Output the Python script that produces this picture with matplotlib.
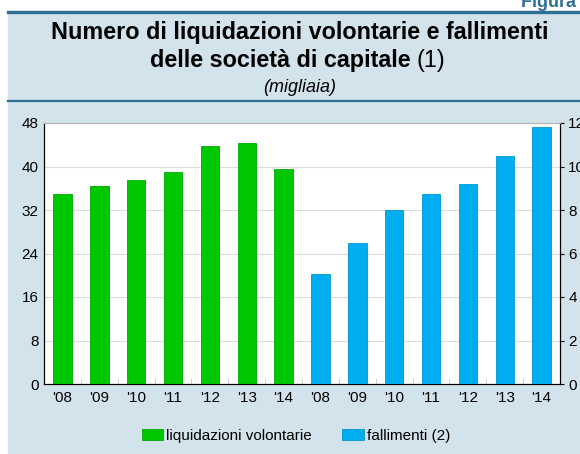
import numpy as np
from matplotlib import pyplot as plt
from matplotlib.patches import Rectangle
from matplotlib.lines import Line2D

years = ["'08", "'09", "'10", "'11", "'12", "'13", "'14"]
liquidazioni = [34.9, 36.4, 37.6, 39.0, 43.8, 44.3, 39.5]   # migliaia, asse sinistro
fallimenti = [5.07, 6.47, 8.0, 8.72, 9.18, 10.47, 11.8]      # migliaia, asse destro

GREEN = "#00c800"
BLUE = "#00aeef"
PANEL = "#d2e3ec"
LINE = "#2f6f93"

plt.rcParams['font.family'] = ['Liberation Sans', 'DejaVu Sans']

W, H = 580, 454
fig = plt.figure(figsize=(W / 100, H / 100), dpi=100)
fig.patch.set_facecolor("white")

# light blue panel and the two dark rules
fig.add_artist(Rectangle((8 / W, 0), 1, 1 - 11 / H, transform=fig.transFigure,
                         color=PANEL, zorder=0))
fig.add_artist(Line2D([8 / W, 1], [1 - 11.5 / H] * 2, transform=fig.transFigure,
                      color=LINE, lw=2.4))
fig.add_artist(Line2D([8 / W, 1], [1 - 101 / H] * 2, transform=fig.transFigure,
                      color=LINE, lw=1.6))
fig.text(521 / W, 1 - 7 / H, "Figura 2.", ha="left", va="baseline",
         fontsize=13, fontweight="bold", color=LINE)

# title
fig.text(300 / W, 1 - 33 / H, "Numero di liquidazioni volontarie e fallimenti",
         ha="center", va="center", fontsize=16.8, fontweight="bold")
fig.text(411 / W, 1 - 60 / H, "delle società di capitale", ha="right",
         va="center", fontsize=16.8, fontweight="bold")
fig.text(416 / W, 1 - 60 / H, "(1)", ha="left", va="center", fontsize=16.8)
fig.text(300 / W, 1 - 87 / H, "(migliaia)", ha="center", va="center",
         fontsize=13, style="italic")

# axes
left, right, top, bottom = 44, 560, 123, 384
ax = fig.add_axes([left / W, 1 - bottom / H, (right - left) / W, (bottom - top) / H])
ax2 = ax.twinx()

n = len(years)
x_green = np.arange(n)
x_blue = np.arange(n) + n

ax.bar(x_green, liquidazioni, width=0.5, color=GREEN, edgecolor="#00a800",
       linewidth=0.6, zorder=3, label="liquidazioni volontarie")
ax2.bar(x_blue, fallimenti, width=0.5, color=BLUE, edgecolor="#0096d0",
        linewidth=0.6, zorder=3, label="fallimenti (2)")

ax.set_xlim(-0.5, 2 * n - 0.5)
ax.set_ylim(0, 48)
ax2.set_ylim(0, 12)
ax.set_yticks(np.arange(0, 49, 8))
ax2.set_yticks(np.arange(0, 13, 2))
ax.set_xticks(np.arange(2 * n))
ax.set_xticklabels(years + years)
ax.set_xticks(np.arange(2 * n - 1) + 0.5, minor=True)

ax.grid(axis="y", color="#dcdcdc", lw=0.8, zorder=0)
ax.set_axisbelow(True)
ax.tick_params(axis="x", which="major", length=0, labelsize=11, pad=5)
ax.tick_params(axis="x", which="minor", length=4, direction="in", color="#c8c8c8")
ax.tick_params(axis="y", length=0, labelsize=11, pad=4)
ax2.tick_params(axis="y", length=3, direction="out", labelsize=11, pad=3)

for a in (ax, ax2):
    a.spines["top"].set_color("#b4b4b4")
    a.spines["left"].set_color("black")
    a.spines["right"].set_color("black")
    a.spines["bottom"].set_color("black")

# legend
h1, l1 = ax.get_legend_handles_labels()
h2, l2 = ax2.get_legend_handles_labels()
fig.legend(h1 + h2, l1 + l2, loc="center", bbox_to_anchor=(296 / W, 1 - 436 / H),
           ncol=2, frameon=False, fontsize=11, handlelength=1.4, handleheight=0.7,
           handletextpad=0.2, columnspacing=2.0)

fig.savefig("out.png", dpi=100, facecolor=fig.get_facecolor())
